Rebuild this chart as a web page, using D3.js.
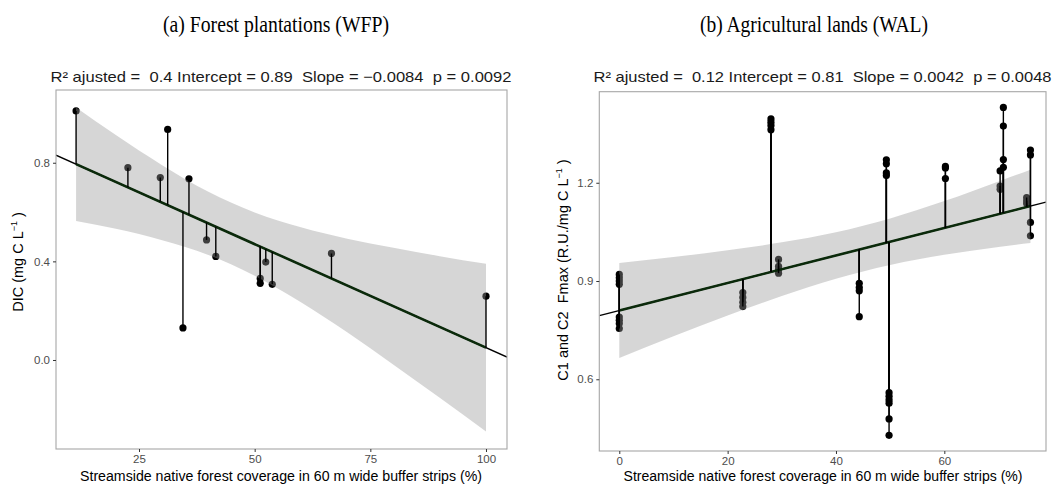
<!DOCTYPE html>
<html>
<head>
<meta charset="utf-8">
<script src="https://cdn.jsdelivr.net/npm/d3@7"></script>
<style>
  body { margin: 0; background: #fff; }
  svg { display: block; }
  text { white-space: pre; }
</style>
</head>
<body>
<svg id="chart"></svg>
<script>
// (a) forest plantations
const wfpX = [11.4, 22.6, 29.6, 31.2, 34.5, 35.8, 39.6, 41.6, 51.2, 51.2, 52.4, 53.8, 66.6, 100];
const wfpY = [1.01, 0.78, 0.74, 0.935, 0.13, 0.735, 0.487, 0.42, 0.331, 0.311, 0.397, 0.307, 0.432, 0.259];
const wfpBandX = [11.4, 20, 30, 40, 50, 60, 70, 80, 90, 100];
const wfpBandLo = [0.564, 0.532, 0.486, 0.426, 0.342, 0.234, 0.112, -0.019, -0.153, -0.29];
const wfpBandHi = [1.024, 0.912, 0.79, 0.682, 0.598, 0.538, 0.492, 0.455, 0.421, 0.39];
const wfpFit = {intercept: 0.89, slope: -0.0084};
const wfpXTicks = [25, 50, 75, 100];
const wfpYTicks = [0.0, 0.4, 0.8];

// (b) agricultural lands
const walX = [0, 0, 0, 0, 0, 0, 0, 0,
  22.8, 22.8, 22.8, 22.8,
  28.0, 28.0, 28.0, 28.0,
  29.4, 29.4, 29.4, 29.4,
  44.3, 44.3, 44.3, 44.3,
  49.3, 49.3, 49.3, 49.3,
  49.8, 49.8, 49.8, 49.8, 49.8, 49.8,
  60.2, 60.2, 60.2,
  70.3, 70.3, 70.3, 70.9, 70.9, 70.9, 70.9,
  75.2, 75.2, 75.2, 75.9, 75.9, 75.9, 75.9];
const walY = [0.92, 0.91, 0.90, 0.89, 0.79, 0.78, 0.77, 0.755,
  0.865, 0.85, 0.835, 0.822,
  1.395, 1.385, 1.375, 1.362,
  0.966, 0.945, 0.935, 0.924,
  0.893, 0.88, 0.87, 0.791,
  1.27, 1.258, 1.23, 1.222,
  0.559, 0.548, 0.537, 0.527, 0.479, 0.429,
  1.25, 1.245, 1.213,
  1.236, 1.19, 1.18, 1.43, 1.373, 1.271, 1.247,
  1.155, 1.145, 1.137, 1.30, 1.285, 1.079, 1.038];
const walBandX = [0, 10, 20, 30, 40, 50, 60, 70, 75.9];
const walBandLo = [0.665, 0.731, 0.795, 0.854, 0.907, 0.949, 0.98, 1.004, 1.016];
const walBandHi = [0.955, 0.973, 0.994, 1.018, 1.049, 1.091, 1.144, 1.204, 1.24];
const walFit = {intercept: 0.81, slope: 0.0042};
const walXTicks = [0, 20, 40, 60];
const walYTicks = [0.6, 0.9, 1.2];

const W = 1057, H = 485;
const svg = d3.select("#chart").attr("width", W).attr("height", H)
  .attr("viewBox", [0, 0, W, H]);

const sans = "'Liberation Sans', Arial, sans-serif";

function panel(o) {
  const x = d3.scaleLinear().domain(o.xDomain).range([o.left, o.right]);
  const y = d3.scaleLinear().domain(o.yDomain).range([o.bottom, o.top]);
  const fit = v => o.fit.intercept + o.fit.slope * v;
  const pts = o.xs.map((v, i) => ({x: v, y: o.ys[i]}));
  const band = o.bandX.map((v, i) => ({x: v, lo: o.bandLo[i], hi: o.bandHi[i]}));

  // title
  svg.append("text")
    .attr("x", o.cx).attr("y", 32)
    .attr("text-anchor", "middle")
    .style("font-family", "'Liberation Serif', 'DejaVu Serif', serif")
    .style("font-size", "24px")
    .attr("textLength", o.titleLen).attr("lengthAdjust", "spacingAndGlyphs")
    .text(o.title);

  // stats line
  svg.append("text")
    .attr("x", o.statCx).attr("y", 82)
    .attr("text-anchor", "middle")
    .style("font-family", sans)
    .style("font-size", "15px")
    .attr("fill", "#1a1a1a")
    .attr("textLength", o.statLen).attr("lengthAdjust", "spacingAndGlyphs")
    .text(o.stats);

  const g = svg.append("g");
  g.append("defs").append("clipPath").attr("id", o.id + "clip")
    .append("rect")
    .attr("x", o.left).attr("y", o.top)
    .attr("width", o.right - o.left).attr("height", o.bottom - o.top);

  const plot = g.append("g").attr("clip-path", `url(#${o.id}clip)`);

  // points
  plot.append("g").selectAll("circle")
    .data(pts)
    .join("circle")
    .attr("cx", d => x(d.x))
    .attr("cy", d => y(d.y))
    .attr("r", 3.6)
    .attr("fill", "#000");

  // confidence band
  plot.append("path")
    .datum(band)
    .attr("fill", "#999999")
    .attr("fill-opacity", 0.4)
    .attr("d", d3.area().curve(d3.curveMonotoneX)
      .x(d => x(d.x)).y0(d => y(d.lo)).y1(d => y(d.hi)));

  // full-range thin line
  plot.append("line")
    .attr("x1", x(o.xDomain[0])).attr("y1", y(fit(o.xDomain[0])))
    .attr("x2", x(o.xDomain[1])).attr("y2", y(fit(o.xDomain[1])))
    .attr("stroke", "#000").attr("stroke-width", 1.3);

  // fitted line over data range
  const [x0, x1] = d3.extent(o.bandX);
  plot.append("line")
    .attr("x1", x(x0)).attr("y1", y(fit(x0)))
    .attr("x2", x(x1)).attr("y2", y(fit(x1)))
    .attr("stroke", "#0b2a0b").attr("stroke-width", 2.6);

  // residual stems
  plot.append("g").selectAll("line")
    .data(pts)
    .join("line")
    .attr("x1", d => x(d.x)).attr("x2", d => x(d.x))
    .attr("y1", d => y(d.y)).attr("y2", d => y(fit(d.x)))
    .attr("stroke", "#000").attr("stroke-width", 1.4);

  // frame
  g.append("rect")
    .attr("x", o.left).attr("y", o.top)
    .attr("width", o.right - o.left).attr("height", o.bottom - o.top)
    .attr("fill", "none").attr("stroke", "#a6a6a6").attr("stroke-width", 1.1);

  // axes
  const gx = g.append("g")
    .attr("transform", `translate(0,${o.bottom})`)
    .call(d3.axisBottom(x).tickValues(o.xTicks).tickSize(3).tickPadding(3).tickFormat(d3.format("d")));
  const gy = g.append("g")
    .attr("transform", `translate(${o.left},0)`)
    .call(d3.axisLeft(y).tickValues(o.yTicks).tickSize(3).tickPadding(3).tickFormat(d3.format(".1f")));
  for (const a of [gx, gy]) {
    a.select(".domain").remove();
    a.selectAll(".tick line").attr("stroke", "#333");
    a.selectAll(".tick text").attr("fill", "#4d4d4d")
      .style("font-family", sans).style("font-size", "11.5px");
  }

  // x label
  svg.append("text")
    .attr("x", o.xlabCx).attr("y", 481)
    .attr("text-anchor", "middle")
    .style("font-family", sans).style("font-size", "14px")
    .attr("textLength", o.xlabLen).attr("lengthAdjust", "spacingAndGlyphs")
    .text("Streamside native forest coverage in 60 m wide buffer strips (%)");

  // y label
  const yl = svg.append("text")
    .attr("transform", `translate(${o.ylabX},${o.ylabCy}) rotate(-90)`)
    .attr("text-anchor", "middle")
    .style("font-family", sans).style("font-size", "14.5px");
  yl.append("tspan").text(o.ylab + "L");
  yl.append("tspan").attr("dy", -6).style("font-size", "9px").text("\u22121");
  yl.append("tspan").attr("dy", 6).text(" )");
}

panel({
  id: "a", title: "(a) Forest plantations (WFP)", cx: 276, titleLen: 226,
  stats: "R\u00b2 ajusted =  0.4 Intercept = 0.89  Slope = \u22120.0084  p = 0.0092",
  statCx: 281, statLen: 461,
  left: 56, right: 507, top: 90, bottom: 449,
  xDomain: [7.06, 104.54], yDomain: [-0.361, 1.095],
  xs: wfpX, ys: wfpY, bandX: wfpBandX, bandLo: wfpBandLo, bandHi: wfpBandHi,
  fit: wfpFit, xTicks: wfpXTicks, yTicks: wfpYTicks,
  xlabCx: 281, xlabLen: 402,
  ylab: "DIC (mg C ", ylabX: 23, ylabCy: 262
});

panel({
  id: "b", title: "(b) Agricultural lands (WAL)", cx: 814, titleLen: 228,
  stats: "R\u00b2 ajusted =  0.12 Intercept = 0.81  Slope = 0.0042  p = 0.0048",
  statCx: 822.5, statLen: 458,
  left: 599.3, right: 1046, top: 91.7, bottom: 451,
  xDomain: [-3.69, 78.77], yDomain: [0.381, 1.478],
  xs: walX, ys: walY, bandX: walBandX, bandLo: walBandLo, bandHi: walBandHi,
  fit: walFit, xTicks: walXTicks, yTicks: walYTicks,
  xlabCx: 823, xlabLen: 399,
  ylab: "C1 and C2  Fmax (R.U./mg C ", ylabX: 568, ylabCy: 270
});
</script>
</body>
</html>
